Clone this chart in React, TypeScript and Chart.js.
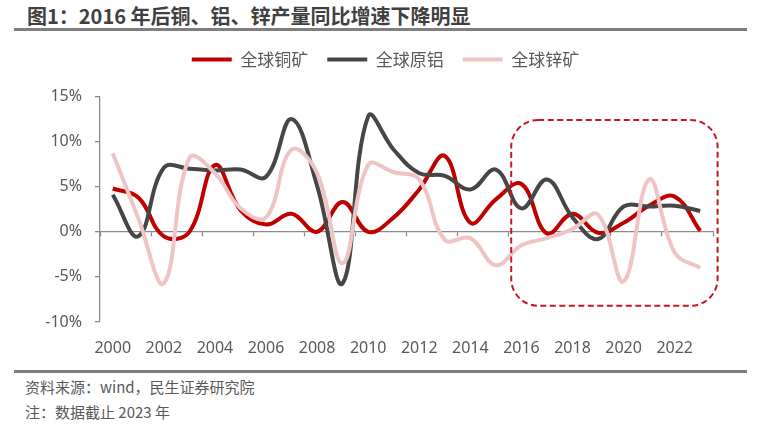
import React, { useEffect, useRef } from 'react';
import { Chart, registerables } from 'chart.js';

Chart.register(...registerables);

const years = [
  '2000', '2001', '2002', '2003', '2004', '2005', '2006', '2007', '2008', '2009', '2010', '2011',
  '2012', '2013', '2014', '2015', '2016', '2017', '2018', '2019', '2020', '2021', '2022', '2023',
];
const copperLabel = '全球铜矿';
const aluminumLabel = '全球原铝';
const zincLabel = '全球锌矿';
const copper = [4.8, 3.8, -0.5, 0.0, 7.4, 2.4, 0.8, 2.0, 0.0, 3.3, 0.0, 1.6, 4.7, 8.4, 1.0, 3.6, 5.3, -0.2, 2.0, -0.1, 1.0, 2.9, 3.9, 0.1];
const aluminum = [4.1, -0.5, 7.1, 7.0, 6.8, 6.9, 6.1, 12.5, 5.1, -5.7, 12.8, 9.1, 6.5, 6.2, 4.7, 6.9, 2.6, 5.8, 1.6, -0.8, 2.8, 2.8, 2.9, 2.3];
const zinc = [8.7, 1.5, -5.7, 8.2, 6.5, 2.6, 1.6, 9.1, 6.5, -3.5, 7.4, 6.6, 5.8, -0.9, -0.7, -3.7, -1.5, -0.7, 0.3, 1.9, -5.5, 5.8, -2.3, -4.0];
const yMin = -10;
const yMax = 15;
const yStep = 5;
// highlighted region (category index / percent values)
const highlightX = [15.6, 23.68];
const highlightY = [-8.2, 12.4];

const titleText = '图1：2016 年后铜、铝、锌产量同比增速下降明显';
const sourceText = '资料来源：wind，民生证券研究院';
const noteText = '注：数据截止 2023 年';

const RED = '#C00000';
const DARK = '#464646';
const PINK = '#EEC4C4';
const AXIS = '#8a8a8a';
const TEXT = '#595959';

const highlightPlugin = {
  id: 'highlightBox',
  afterDatasetsDraw(chart: any) {
    const { ctx, scales } = chart;
    const x1 = scales.x.getPixelForValue(highlightX[0]);
    const x2 = scales.x.getPixelForValue(highlightX[1]);
    const y1 = scales.y.getPixelForValue(highlightY[1]);
    const y2 = scales.y.getPixelForValue(highlightY[0]);
    ctx.save();
    ctx.strokeStyle = '#C8171E';
    ctx.lineWidth = 2;
    ctx.setLineDash([6, 3.5]);
    ctx.beginPath();
    (ctx as any).roundRect(x1, y1, x2 - x1, y2 - y1, 27);
    ctx.stroke();
    ctx.restore();
  },
};

export default function App() {
  const ref = useRef<HTMLCanvasElement>(null);
  useEffect(() => {
    const tickFont = { family: '"Noto Sans", "Noto Sans CJK SC", sans-serif', size: 16 };
    const chart = new Chart(ref.current as HTMLCanvasElement, {
      type: 'line',
      data: {
        labels: years,
        datasets: [
          { label: copperLabel, data: copper, borderColor: RED, backgroundColor: RED, borderWidth: 4, pointRadius: 0, tension: 0.4, order: 2, xAxisID: 'x', yAxisID: 'y' },
          { label: aluminumLabel, data: aluminum, borderColor: DARK, backgroundColor: DARK, borderWidth: 4, pointRadius: 0, tension: 0.4, order: 1, xAxisID: 'x', yAxisID: 'y' },
          { label: zincLabel, data: zinc, borderColor: PINK, backgroundColor: PINK, borderWidth: 4, pointRadius: 0, tension: 0.4, order: 0, xAxisID: 'x', yAxisID: 'y' },
        ],
      },
      options: {
        responsive: false,
        animation: false,
        layout: { padding: 0 },
        plugins: {
          tooltip: { enabled: false },
          title: { display: false },
          legend: {
            display: true,
            position: 'top',
            align: 'center',
            labels: {
              boxWidth: 40,
              boxHeight: 4,
              padding: 19,
              color: TEXT,
              font: { family: '"Noto Sans CJK SC", sans-serif', size: 17 },
              generateLabels: (c: any) =>
                c.data.datasets.map((d: any, i: number) => ({
                  text: d.label,
                  fillStyle: d.borderColor,
                  strokeStyle: d.borderColor,
                  lineWidth: 0,
                  fontColor: TEXT,
                  hidden: false,
                  datasetIndex: i,
                })),
            },
          },
          subtitle: {
            display: true,
            text: '',
            position: 'top',
            weight: 500,
            font: { size: 1, lineHeight: 1 },
            padding: { top: 17.5, bottom: 0 },
          },
        },
        scales: {
          x: {
            type: 'category',
            position: 'bottom',
            offset: true,
            grid: { display: false },
            border: { display: false },
            ticks: {
              autoSkip: false,
              maxRotation: 0,
              padding: 9,
              color: TEXT,
              font: tickFont,
              callback: (_v: any, i: number) => (i % 2 === 0 ? years[i] : ''),
            },
            afterFit: (s: any) => {
              s.height = 38;
            },
          },
          x0: {
            type: 'category',
            position: { y: 0 },
            offset: true,
            grid: {
              offset: true,
              drawOnChartArea: false,
              drawTicks: true,
              tickLength: 4,
              tickWidth: 1.3,
              tickColor: (c: any) => (c.type !== 'tick' || c.index % 2 === 0 ? AXIS : 'rgba(0,0,0,0)'),
            },
            border: { display: true, color: AXIS, width: 1.3 },
            ticks: { display: false },
          },
          y: {
            type: 'linear',
            position: 'left',
            min: yMin,
            max: yMax,
            ticks: {
              stepSize: yStep,
              padding: 13,
              color: TEXT,
              font: tickFont,
              callback: (v: any) => `${v}%`,
            },
            grid: { drawOnChartArea: false, tickLength: 5, color: AXIS, lineWidth: 1.3 },
            border: { display: true, color: AXIS, width: 1.3 },
            afterFit: (s: any) => {
              s.width = 100;
            },
          },
          yR: {
            type: 'linear',
            position: 'right',
            display: true,
            grid: { display: false },
            border: { display: false },
            ticks: { display: false },
            afterFit: (s: any) => {
              s.width = 58;
            },
          },
        },
      },
      plugins: [highlightPlugin],
    } as any);
    return () => chart.destroy();
  }, []);

  return (
    <div style={{ position: 'fixed', left: 0, top: 0, width: 771, height: 425, background: '#fff', overflow: 'hidden' }}>
      <div
        style={{
          position: 'absolute', left: 27, top: 6, whiteSpace: 'nowrap', color: '#404040',
          fontFamily: '"Noto Sans CJK SC", sans-serif', fontWeight: 'bold', fontSize: 20, lineHeight: '20px',
        }}
      >
        {titleText}
      </div>
      <div style={{ position: 'absolute', left: 14, top: 28, width: 733, height: 3, background: '#7f7f7f' }} />
      <canvas ref={ref} width={771} height={328} style={{ position: 'absolute', left: 0, top: 32, width: 771, height: 328 }} />
      <div style={{ position: 'absolute', left: 14, top: 370, width: 733, height: 3, background: '#7f7f7f' }} />
      <div
        style={{
          position: 'absolute', left: 25, top: 379, whiteSpace: 'nowrap', color: TEXT,
          fontFamily: '"Noto Sans CJK SC", sans-serif', fontSize: 15, lineHeight: '16px',
        }}
      >
        {sourceText}
      </div>
      <div
        style={{
          position: 'absolute', left: 25, top: 404, whiteSpace: 'nowrap', color: TEXT,
          fontFamily: '"Noto Sans CJK SC", sans-serif', fontSize: 15, lineHeight: '16px',
        }}
      >
        {noteText}
      </div>
    </div>
  );
}
